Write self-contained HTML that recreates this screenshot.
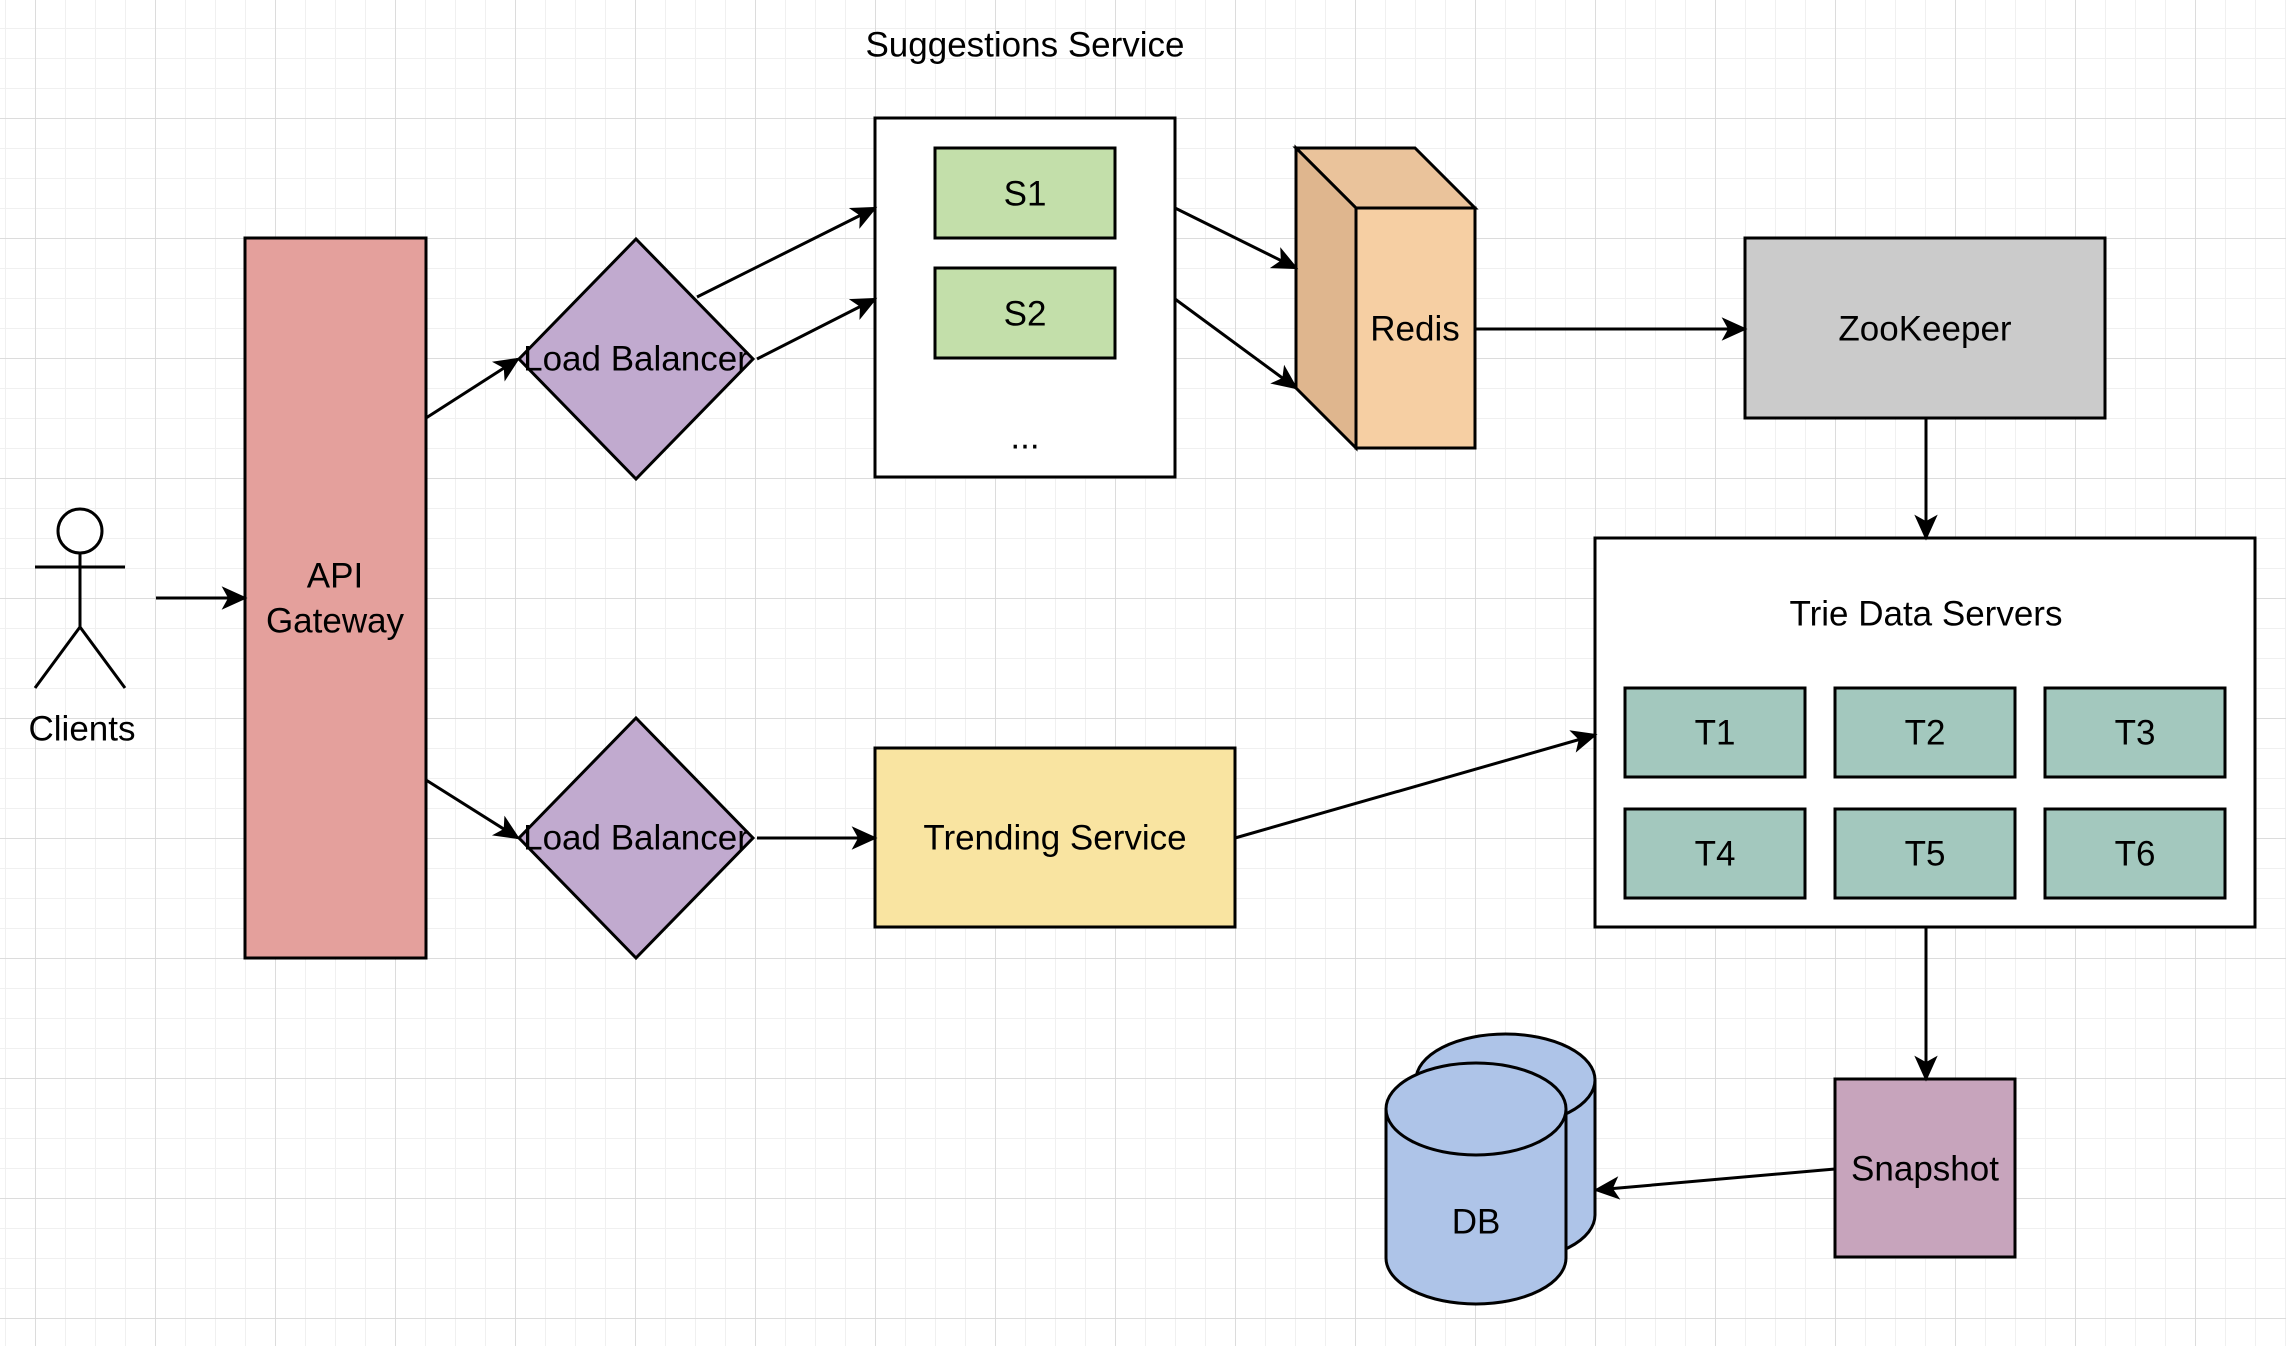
<!DOCTYPE html>
<html><head><meta charset="utf-8"><style>
html,body{margin:0;padding:0;background:#fff;}
svg{display:block;font-family:"Liberation Sans",Arial,sans-serif;}
</style></head><body>
<svg width="2286" height="1346" viewBox="0 0 2286 1346" xmlns="http://www.w3.org/2000/svg">
<defs>
<pattern id="minor" x="5" y="28" width="30" height="30" patternUnits="userSpaceOnUse">
<path d="M0 0H30M0 0V30" stroke="#f0f0f0" stroke-width="2" fill="none"/>
</pattern>
<pattern id="major" x="35" y="118" width="120" height="120" patternUnits="userSpaceOnUse">
<path d="M0 0H120M0 0V120" stroke="#d6d6d6" stroke-width="1.5" fill="none"/>
</pattern>
<marker id="a" viewBox="0 0 20 20" refX="18" refY="10" markerWidth="26" markerHeight="26" markerUnits="userSpaceOnUse" orient="auto">
<path d="M0 1 L20 10 L0 19 L5 10 Z" fill="#000"/>
</marker>
</defs>
<rect width="2286" height="1346" fill="url(#minor)"/>
<rect width="2286" height="1346" fill="url(#major)"/>

<g stroke="#000" stroke-width="3">
<rect x="245" y="238" width="181" height="720" fill="#e4a09c"/>
<polygon points="636,239 753,359 636,479 519,359" fill="#c1aacf"/>
<polygon points="636,718 753,838 636,958 519,838" fill="#c1aacf"/>
<rect x="875" y="118" width="300" height="359" fill="#fff"/>
<rect x="935" y="148" width="180" height="90" fill="#c3dfaa"/>
<rect x="935" y="268" width="180" height="90" fill="#c3dfaa"/>
<rect x="875" y="748" width="360" height="179" fill="#f9e4a1"/>
<polygon points="1296,148 1415,148 1475,208 1356,208" fill="#eac39b"/>
<polygon points="1296,148 1356,208 1356,448 1296,388" fill="#dfb68e"/>
<rect x="1356" y="208" width="119" height="240" fill="#f6cfa3"/>
<rect x="1745" y="238" width="360" height="180" fill="#cbcbcb"/>
<rect x="1595" y="538" width="660" height="389" fill="#fff"/>
<rect x="1625" y="688" width="180" height="89" fill="#a3c8be"/>
<rect x="1835" y="688" width="180" height="89" fill="#a3c8be"/>
<rect x="2045" y="688" width="180" height="89" fill="#a3c8be"/>
<rect x="1625" y="809" width="180" height="89" fill="#a3c8be"/>
<rect x="1835" y="809" width="180" height="89" fill="#a3c8be"/>
<rect x="2045" y="809" width="180" height="89" fill="#a3c8be"/>
<rect x="1835" y="1079" width="180" height="178" fill="#c7a4bc"/>
<path d="M1416 1080 A89.5 46 0 0 1 1595 1080 V1215 A89.5 46 0 0 1 1416 1215 Z" fill="#aec4e8"/>
<path d="M1416 1080 A89.5 46 0 0 0 1595 1080" fill="none"/>
<path d="M1386 1109 A90 46 0 0 1 1566 1109 V1258 A90 46 0 0 1 1386 1258 Z" fill="#aec4e8"/>
<path d="M1386 1109 A90 46 0 0 0 1566 1109" fill="none"/>
<circle cx="80" cy="531" r="22" fill="#fff"/>
<path d="M80 553 V627 M35 567 H125 M80 627 L35 688 M80 627 L125 688" fill="none"/>
</g>

<g stroke="#000" stroke-width="3" fill="none" marker-end="url(#a)">
<line x1="156" y1="598" x2="245" y2="598"/>
<line x1="426" y1="418" x2="518" y2="359"/>
<line x1="426" y1="780" x2="518" y2="838"/>
<line x1="697" y1="297" x2="875" y2="208"/>
<line x1="757" y1="359" x2="875" y2="299"/>
<line x1="757" y1="838" x2="875" y2="838"/>
<line x1="1175" y1="208" x2="1296" y2="268"/>
<line x1="1175" y1="299" x2="1296" y2="388"/>
<line x1="1475" y1="329" x2="1745" y2="329"/>
<line x1="1926" y1="418" x2="1926" y2="538"/>
<line x1="1235" y1="838" x2="1595" y2="735"/>
<line x1="1926" y1="927" x2="1926" y2="1079"/>
<line x1="1835" y1="1169" x2="1596" y2="1190"/>
</g>

<g font-size="35" text-anchor="middle" fill="#000" dominant-baseline="central">
<text x="1025" y="45">Suggestions Service</text>
<text x="1025" y="194">S1</text>
<text x="1025" y="314">S2</text>
<text x="1025" y="437">...</text>
<text x="335" y="576">API</text>
<text x="335" y="621">Gateway</text>
<text x="636" y="359">Load Balancer</text>
<text x="636" y="838">Load Balancer</text>
<text x="1055" y="838">Trending Service</text>
<text x="1415" y="329">Redis</text>
<text x="1925" y="329">ZooKeeper</text>
<text x="1926" y="614">Trie Data Servers</text>
<text x="1715" y="733">T1</text>
<text x="1925" y="733">T2</text>
<text x="2135" y="733">T3</text>
<text x="1715" y="854">T4</text>
<text x="1925" y="854">T5</text>
<text x="2135" y="854">T6</text>
<text x="1925" y="1169">Snapshot</text>
<text x="1476" y="1222">DB</text>
<text x="82" y="729">Clients</text>
</g>
</svg>
</body></html>
